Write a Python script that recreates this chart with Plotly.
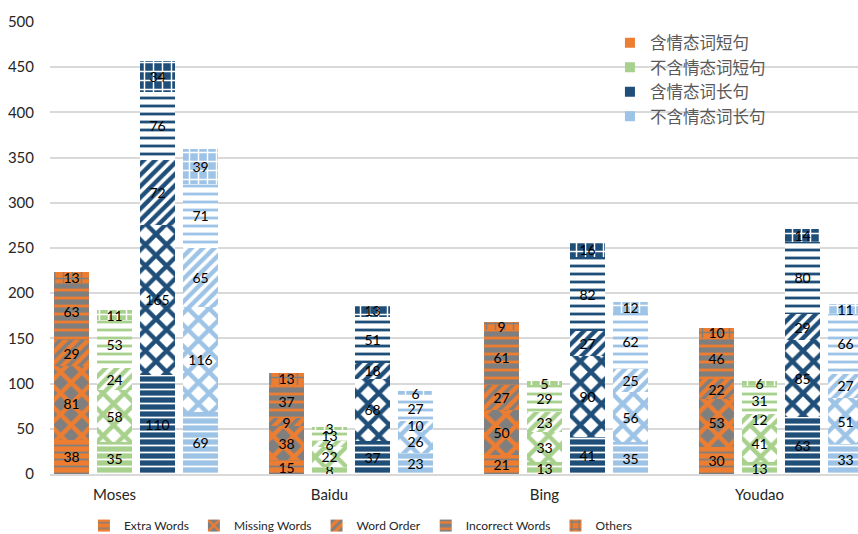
import plotly.graph_objects as go

# ---------------- data ----------------
groups = ["Moses", "Baidu", "Bing", "Youdao"]
sentence_types = ["含情态词短句", "不含情态词短句", "含情态词长句", "不含情态词长句"]
error_types = ["Extra Words", "Missing Words", "Word Order", "Incorrect Words", "Others"]

# each list: for each group (Moses, Baidu, Bing, Youdao) the four sentence types in order
extra_words     = [38, 35, 110, 69,   15, 8, 37, 23,   21, 13, 41, 35,   30, 13, 63, 33]
missing_words   = [81, 58, 165, 116,  38, 22, 68, 26,  50, 33, 90, 56,   53, 41, 85, 51]
word_order      = [29, 24, 72, 65,    9, 6, 18, 10,    27, 23, 27, 25,   22, 12, 29, 27]
incorrect_words = [63, 53, 76, 71,    37, 13, 51, 27,  61, 29, 82, 62,   46, 31, 80, 66]
others          = [13, 11, 34, 39,    13, 3, 13, 6,    9, 5, 16, 12,     10, 6, 14, 11]

series = [extra_words, missing_words, word_order, incorrect_words, others]

y_ticks = list(range(0, 501, 50))

# ---------------- style ----------------
main_colors = ["#ED7D31", "#A9D18E", "#1F4E79", "#9DC3E6"]
second_colors = ["#7F7F7F", "#FFFFFF", "#FFFFFF", "#FFFFFF"]

# (shape, fg uses main color?, solidity, size)
pattern_styles = [
    ("-", False, 0.25, 7),   # Extra Words: waves approximated
    ("x", True, 0.5, 15),    # Missing Words: checker approximated
    ("/", False, 0.45, 8),   # Word Order: diagonal stripes
    ("-", True, 0.35, 8),    # Incorrect Words: dashes
    ("+", False, 0.3, 9),    # Others: grid
]

n_groups = len(groups)
n_types = len(sentence_types)
slots_per_group = n_types + 1

FONT = "Lato, 'Noto Sans CJK SC', sans-serif"

fig = go.Figure()
for e, (name, vals, (shape, fg_main, sol, size)) in enumerate(zip(error_types, series, pattern_styles)):
    for s in range(n_types):
        xs = [g * slots_per_group + s for g in range(n_groups)]
        ys = [vals[g * n_types + s] for g in range(n_groups)]
        main, second = main_colors[s], second_colors[s]
        fg = main if fg_main else second
        bg = second if fg_main else main
        fig.add_trace(go.Bar(
            x=xs, y=ys, name=name, width=0.83,
            legendgroup=name, showlegend=(s == 0), legend="legend",
            marker=dict(color=bg, line=dict(width=0),
                        pattern=dict(shape=shape, fgcolor=fg, bgcolor=bg,
                                     solidity=sol, size=size, fillmode="replace")),
            text=[str(v) for v in ys], textposition="inside",
            insidetextanchor="middle", textangle=0, constraintext="none",
            insidetextfont=dict(family=FONT, size=14, color="#000000"),
        ))

for name, col in zip(sentence_types, main_colors):
    fig.add_trace(go.Scatter(
        x=[None], y=[None], mode="markers", name=name,
        marker=dict(symbol="square", size=10, color=col),
        legend="legend2", showlegend=True,
    ))

fig.update_layout(
    width=858, height=534,
    margin=dict(l=50, r=0, t=22, b=60, autoexpand=False),
    paper_bgcolor="white", plot_bgcolor="white",
    barmode="stack",
    font=dict(family=FONT, size=14, color="#404040"),
    uniformtext=dict(minsize=14, mode="show"),
    xaxis=dict(
        range=[-0.5, 18.29],
        tickvals=[g * slots_per_group + 1 for g in range(n_groups)],
        ticktext=groups,
        tickfont=dict(size=15, color="#262626"),
        showgrid=False, zeroline=False,
        showline=True, linecolor="#D9D9D9", linewidth=2,
        ticks="outside", ticklen=6, tickcolor="rgba(0,0,0,0)",
    ),
    yaxis=dict(
        range=[0, 500], tickvals=y_ticks,
        tickfont=dict(size=15, color="#262626"),
        showgrid=True, gridcolor="#D9D9D9", gridwidth=1.5,
        zeroline=False, showline=False,
        ticks="outside", ticklen=12, tickcolor="rgba(0,0,0,0)",
    ),
    legend=dict(
        orientation="h", x=0.042, xanchor="left", y=-0.082, yanchor="top",
        traceorder="normal", font=dict(size=12, color="#262626"),
        bgcolor="rgba(0,0,0,0)",
    ),
    legend2=dict(
        orientation="v", x=0.693, xanchor="left", y=0.992, yanchor="top",
        font=dict(size=16.5, color="#595959"), bgcolor="rgba(0,0,0,0)",
        tracegroupgap=0,
    ),
)

fig.write_html("out.html")
